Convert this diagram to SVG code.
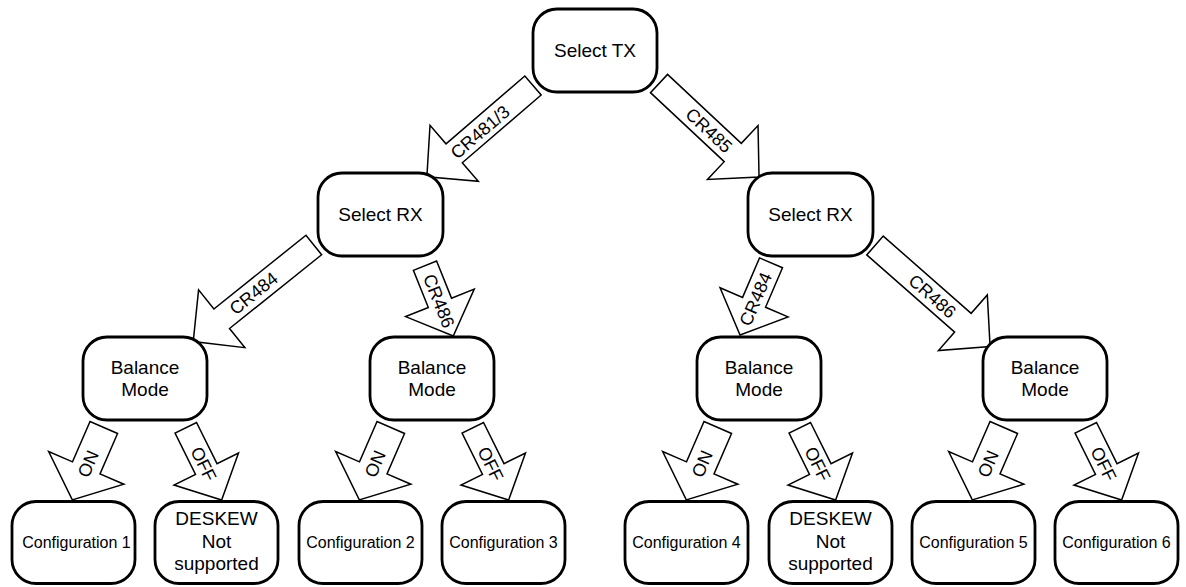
<svg xmlns="http://www.w3.org/2000/svg" width="1186" height="587" viewBox="0 0 1186 587">
<style>
.node{fill:#fff;stroke:#000;stroke-width:2.8}
.arr{fill:#fff;stroke:#000;stroke-width:1.5;stroke-linejoin:miter}
.t{font-family:"Liberation Sans",Arial,sans-serif;font-size:19px;fill:#000;text-anchor:middle}
.c{font-family:"Liberation Sans",Arial,sans-serif;font-size:16px;fill:#000;text-anchor:middle}
.l{font-family:"Liberation Sans",Arial,sans-serif;font-size:18px;fill:#000;text-anchor:middle}
</style>
<defs>
<polygon id="on" class="arr" points="0,-15 44,-15 44,-41 79,0 44,41 44,15 0,15"/>
<polygon id="off" class="arr" points="0,-12 46,-12 46,-36 80.6,0 46,36 46,12 0,12"/>
</defs>
<rect width="1186" height="587" fill="#fff"/>
<g id="connectors">
  <g id="arrow-cr4813">
    <polygon class="arr" transform="translate(533,85.5) rotate(139.3)" points="0,-12.5 104,-12.5 104,-37 140,0 104,37 104,12.5 0,12.5"/>
    <text class="l" transform="translate(480,132) rotate(-40.7)" y="6.4">CR481/3</text>
  </g>
  <g id="arrow-cr485">
    <polygon class="arr" transform="translate(659,83.5) rotate(43.1)" points="0,-12.5 101,-12.5 101,-37 137,0 101,37 101,12.5 0,12.5"/>
    <text class="l" transform="translate(709,130.3) rotate(43.1)" y="6.4">CR485</text>
  </g>
  <g id="arrow-cr484-left">
    <polygon class="arr" transform="translate(313.8,245) rotate(141.3)" points="0,-12.5 118,-12.5 118,-37 154.5,0 118,37 118,12.5 0,12.5"/>
    <text class="l" transform="translate(253.5,293.3) rotate(-38.7)" y="6.4">CR484</text>
  </g>
  <g id="arrow-cr486-left">
    <polygon class="arr" transform="translate(425,265.7) rotate(68.1)" points="0,-12.5 40,-12.5 40,-37 75.8,0 40,37 40,12.5 0,12.5"/>
    <text class="l" transform="translate(439.1,300.9) rotate(68.1)" y="6.4">CR486</text>
  </g>
  <g id="arrow-cr484-right">
    <polygon class="arr" transform="translate(771,262.8) rotate(113.2)" points="0,-12.5 43,-12.5 43,-37 78.6,0 43,37 43,12.5 0,12.5"/>
    <text class="l" transform="translate(755.5,298.9) rotate(-66.8)" y="6.4">CR484</text>
  </g>
  <g id="arrow-cr486-right">
    <polygon class="arr" transform="translate(875,245.5) rotate(41.3)" points="0,-12.5 117,-12.5 117,-37 153.2,0 117,37 117,12.5 0,12.5"/>
    <text class="l" transform="translate(932.5,296.1) rotate(41.3)" y="6.4">CR486</text>
  </g>
  <g id="arrows-unit1">
    <use href="#on" transform="translate(103.8,427.5) rotate(113.5)"/>
    <text class="l" transform="translate(88,463.7) rotate(-66.5)" y="6.4">ON</text>
    <use href="#off" transform="translate(185.8,427.8) rotate(63.6)"/>
    <text class="l" transform="translate(203.7,463.9) rotate(63.6)" y="6.4">OFF</text>
  </g>
  <g id="arrows-unit2" transform="translate(287,0)">
    <use href="#on" transform="translate(103.8,427.5) rotate(113.5)"/>
    <text class="l" transform="translate(88,463.7) rotate(-66.5)" y="6.4">ON</text>
    <use href="#off" transform="translate(185.8,427.8) rotate(63.6)"/>
    <text class="l" transform="translate(203.7,463.9) rotate(63.6)" y="6.4">OFF</text>
  </g>
  <g id="arrows-unit3" transform="translate(614,0)">
    <use href="#on" transform="translate(103.8,427.5) rotate(113.5)"/>
    <text class="l" transform="translate(88,463.7) rotate(-66.5)" y="6.4">ON</text>
    <use href="#off" transform="translate(185.8,427.8) rotate(63.6)"/>
    <text class="l" transform="translate(203.7,463.9) rotate(63.6)" y="6.4">OFF</text>
  </g>
  <g id="arrows-unit4" transform="translate(900,0)">
    <use href="#on" transform="translate(103.8,427.5) rotate(113.5)"/>
    <text class="l" transform="translate(88,463.7) rotate(-66.5)" y="6.4">ON</text>
    <use href="#off" transform="translate(185.8,427.8) rotate(63.6)"/>
    <text class="l" transform="translate(203.7,463.9) rotate(63.6)" y="6.4">OFF</text>
  </g>
</g>
<g id="select-tx">
  <rect class="node" x="533" y="9" width="124" height="83" rx="24"/>
  <text class="t" x="595" y="57">Select TX</text>
</g>
<g id="select-rx-left">
  <rect class="node" x="318" y="173" width="125" height="83" rx="24"/>
  <text class="t" x="380.5" y="221">Select RX</text>
</g>
<g id="select-rx-right">
  <rect class="node" x="748" y="173" width="125" height="83" rx="24"/>
  <text class="t" x="810.5" y="221">Select RX</text>
</g>
<g id="balance-1">
  <rect class="node" x="83" y="337" width="124" height="83" rx="24"/>
  <text class="t" x="145" y="373.5">Balance</text>
  <text class="t" x="145" y="396">Mode</text>
</g>
<g id="balance-2">
  <rect class="node" x="370" y="337" width="124" height="83" rx="24"/>
  <text class="t" x="432" y="373.5">Balance</text>
  <text class="t" x="432" y="396">Mode</text>
</g>
<g id="balance-3">
  <rect class="node" x="697" y="337" width="124" height="83" rx="24"/>
  <text class="t" x="759" y="373.5">Balance</text>
  <text class="t" x="759" y="396">Mode</text>
</g>
<g id="balance-4">
  <rect class="node" x="983" y="337" width="124" height="83" rx="24"/>
  <text class="t" x="1045" y="373.5">Balance</text>
  <text class="t" x="1045" y="396">Mode</text>
</g>
<g id="config-1">
  <rect class="node" x="12" y="501.5" width="123" height="82" rx="24"/>
  <text class="c" x="76.5" y="547.5">Configuration 1</text>
</g>
<g id="deskew-1">
  <rect class="node" x="155" y="501.5" width="123" height="82" rx="24"/>
  <text class="t" x="216.5" y="525">DESKEW</text>
  <text class="t" x="216.5" y="547.5">Not</text>
  <text class="t" x="216.5" y="570">supported</text>
</g>
<g id="config-2">
  <rect class="node" x="299" y="501.5" width="123" height="82" rx="24"/>
  <text class="c" x="360.5" y="547.5">Configuration 2</text>
</g>
<g id="config-3">
  <rect class="node" x="442" y="501.5" width="123" height="82" rx="24"/>
  <text class="c" x="503.5" y="547.5">Configuration 3</text>
</g>
<g id="config-4">
  <rect class="node" x="625" y="501.5" width="123" height="82" rx="24"/>
  <text class="c" x="686.5" y="547.5">Configuration 4</text>
</g>
<g id="deskew-2">
  <rect class="node" x="769" y="501.5" width="123" height="82" rx="24"/>
  <text class="t" x="830.5" y="525">DESKEW</text>
  <text class="t" x="830.5" y="547.5">Not</text>
  <text class="t" x="830.5" y="570">supported</text>
</g>
<g id="config-5">
  <rect class="node" x="912" y="501.5" width="123" height="82" rx="24"/>
  <text class="c" x="973.5" y="547.5">Configuration 5</text>
</g>
<g id="config-6">
  <rect class="node" x="1055" y="501.5" width="123" height="82" rx="24"/>
  <text class="c" x="1116.5" y="547.5">Configuration 6</text>
</g>
</svg>
